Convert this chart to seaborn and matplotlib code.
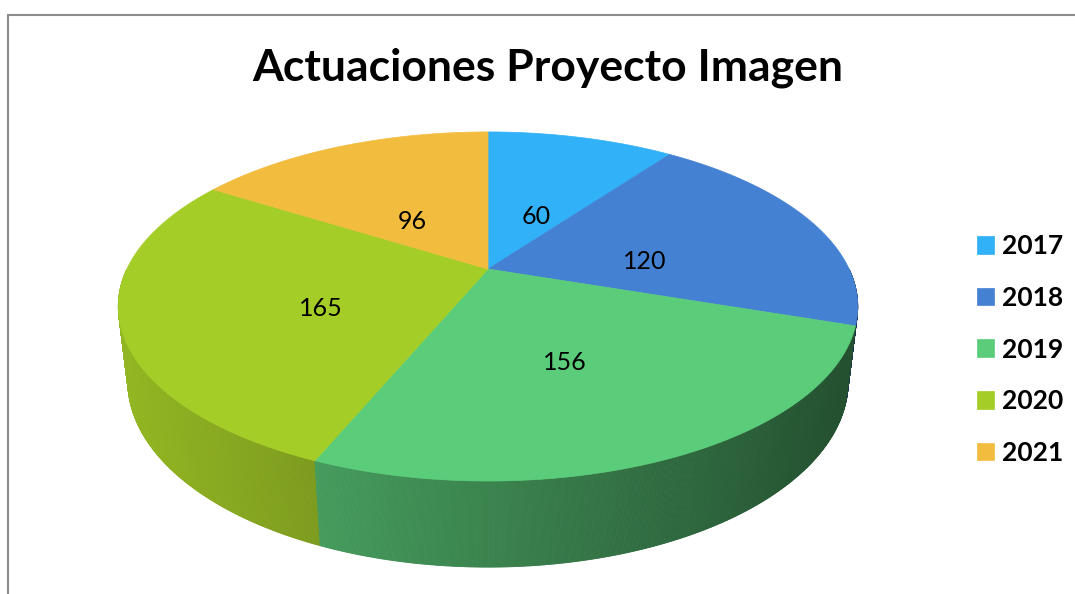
import numpy as np
import matplotlib.pyplot as plt
import seaborn as sns
from matplotlib.collections import PolyCollection
from matplotlib.colors import to_rgb
from matplotlib.lines import Line2D

years = ["2017", "2018", "2019", "2020", "2021"]
values = [60, 120, 156, 165, 96]
colors = ["#31B1F8", "#4581D2", "#5BCD7A", "#A5CD27", "#F2BD3F"]
title = "Actuaciones Proyecto Imagen"

sns.set_theme(style="white")
plt.rcParams['font.family'] = ['Lato', 'DejaVu Sans']
plt.rcParams['text.color'] = 'black'

# 3d view of the pie (elevation + perspective, like the spreadsheet chart)
D = 4.15
elev = np.radians(27.1)
depth = 0.231
se, ce = np.sin(elev), np.cos(elev)


def project(x, y, z=0.0):
    u = y * se + z * ce
    w = y * ce - z * se
    k = D / (D + w)
    return x * k, u * k


fig = plt.figure(figsize=(10.75, 5.94), dpi=100)
ax = fig.add_axes([0, 0, 1, 1])

vals = np.array(values, dtype=float)
total = vals.sum()
bounds = 90 - 360 * np.concatenate([[0], np.cumsum(vals) / total])

# side strips first (front half only)
side_items = []
handles = []
for i, col in enumerate(colors):
    t = np.radians(np.linspace(bounds[i], bounds[i + 1], 400))
    base = np.array(to_rgb(col))
    for a0, a1 in zip(t[:-1], t[1:]):
        if np.sin(a0) > 0 or np.sin(a1) > 0:
            continue
        x0, y0 = project(np.cos(a0), np.sin(a0))
        x1, y1 = project(np.cos(a1), np.sin(a1))
        x2, y2 = project(np.cos(a1), np.sin(a1), -depth)
        x3, y3 = project(np.cos(a0), np.sin(a0), -depth)
        xn = (x0 + x1) / 2 / 1.02
        f = 0.89 - 0.25 * (xn + 1)
        fc = np.clip(base * f, 0, 1)
        side_items.append((np.sin((a0 + a1) / 2), [(x0, y0), (x1, y1), (x2, y2), (x3, y3)], fc))
side_items.sort(key=lambda it: -it[0])
side = PolyCollection([it[1] for it in side_items], facecolors=[it[2] for it in side_items],
                      edgecolors=[it[2] for it in side_items], linewidths=0.6, zorder=2)
ax.add_collection(side)

# top face and value labels
for i, (col, v) in enumerate(zip(colors, values)):
    t = np.radians(np.linspace(bounds[i], bounds[i + 1], 400))
    px, py = project(np.cos(t), np.sin(t))
    xs = np.concatenate([[0], px])
    ys = np.concatenate([[0], py])
    poly = ax.fill(xs, ys, facecolor=col, edgecolor=col, lw=0.5, zorder=3)
    handles.append(poly[0])
    tm = np.radians((bounds[i] + bounds[i + 1]) / 2)
    lx, ly = project(0.47 * np.cos(tm), 0.47 * np.sin(tm))
    ax.text(lx, ly - 0.041, f"{v}", ha="center", va="center", fontsize=18,
            color="black", zorder=5)

ax.set_aspect("auto")
ax.set_xlim(-1.3514, 1.6255)
ax.set_ylim(-0.889, 0.736)
ax.axis("off")

fig.text(0.51, 0.886, title, ha="center", va="center", fontsize=32,
         fontweight="bold", color="black")

leg = fig.legend(handles, years, loc="center left", bbox_to_anchor=(0.909, 0.4116),
                 frameon=False, prop=dict(weight="bold", size=19),
                 handlelength=0.65, handleheight=0.65, handletextpad=0.3,
                 labelspacing=1.05, borderpad=0, borderaxespad=0)
for t in leg.get_texts():
    t.set_fontweight("bold")
    t.set_color("black")

bx, by = 8 / 1075, 1 - 15 / 594
fig.add_artist(Line2D([bx, bx], [0, by], transform=fig.transFigure, color="#8c8c8c", lw=1.5))
fig.add_artist(Line2D([bx, 1], [by, by], transform=fig.transFigure, color="#8c8c8c", lw=1.5))

fig.savefig("out.png", dpi=100)
